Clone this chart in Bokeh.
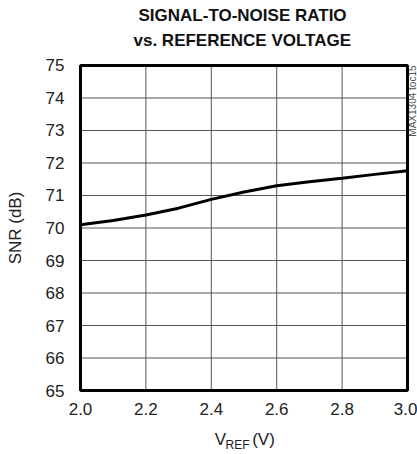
from bokeh.plotting import figure
from bokeh.models import (Range1d, LinearAxis, Title, FixedTicker, NumeralTickFormatter,
                          BoxAnnotation, ColumnDataSource)
from bokeh.core.properties import value
from bokeh.embed import file_html
from bokeh.resources import INLINE
import math

# ---- data ----
vref = [2.0, 2.1, 2.2, 2.3, 2.4, 2.5, 2.6, 2.7, 2.8, 2.9, 3.0]
snr = [70.10, 70.23, 70.40, 70.61, 70.88, 71.11, 71.30, 71.42, 71.53, 71.65, 71.76]

x_ticks = [2.0, 2.2, 2.4, 2.6, 2.8, 3.0]
y_ticks = [65, 66, 67, 68, 69, 70, 71, 72, 73, 74, 75]

title_lines = ["SIGNAL-TO-NOISE RATIO", "vs. REFERENCE VOLTAGE"]
y_label = "SNR (dB)"
x_label_parts = {220: "V", 263: "(V)"}   # main-size parts of the x label
x_label_sub = {237: "REF"}              # subscript part
tag_text = "MAX1304 toc15"

FONT = "Liberation Sans"
TXT = "#222222"

x0, x1 = x_ticks[0], x_ticks[-1]
y0, y1 = y_ticks[0], y_ticks[-1]
# chart box is 327 x 327 px; the plotting area runs a little past it so the heavy
# border is not clipped and the side tag has room beside the box
xpp = (x1 - x0) / 327
ypp = (y1 - y0) / 327

p = figure(width=417, height=454, output_backend="svg", toolbar_location=None,
           x_range=Range1d(x0 - 2 * xpp, x1 + 10 * xpp),
           y_range=Range1d(y0 - 2 * ypp, y1 + 2 * ypp),
           min_border_left=78, min_border_right=0, min_border_top=63, min_border_bottom=60)
p.title = None
p.background_fill_color = "white"
p.border_fill_color = "white"
p.outline_line_color = None
p.xgrid.visible = False
p.ygrid.visible = False

# helper range in canvas pixels, used only to place the x-label pieces
p.extra_x_ranges = {"lab": Range1d(78, 417)}

for ax in (p.xaxis[0], p.yaxis[0]):
    ax.axis_line_color = None
    ax.major_tick_in = 0
    ax.major_tick_out = 0
    ax.minor_tick_line_color = None
    ax.major_label_text_font = FONT
    ax.major_label_text_font_size = "17px"
    ax.major_label_text_color = TXT

p.xaxis[0].ticker = FixedTicker(ticks=x_ticks)
p.xaxis[0].formatter = NumeralTickFormatter(format="0.0")
p.xaxis[0].major_label_standoff = 10

p.yaxis[0].ticker = FixedTicker(ticks=y_ticks)
p.yaxis[0].major_label_standoff = 14
p.yaxis[0].axis_label = y_label
p.yaxis[0].axis_label_text_font = FONT
p.yaxis[0].axis_label_text_font_size = "17px"
p.yaxis[0].axis_label_text_font_style = "normal"
p.yaxis[0].axis_label_text_color = TXT
p.yaxis[0].axis_label_standoff = 18


def label_axis(mapping, size, standoff):
    ax = LinearAxis(x_range_name="lab", ticker=FixedTicker(ticks=list(mapping.keys())),
                    major_label_overrides=dict(mapping))
    ax.axis_line_color = None
    ax.major_tick_line_color = None
    ax.major_tick_in = 0
    ax.major_tick_out = 0
    ax.minor_tick_line_color = None
    ax.major_label_text_font = FONT
    ax.major_label_text_font_size = size
    ax.major_label_text_color = TXT
    ax.major_label_standoff = standoff
    p.add_layout(ax, "below")
    return ax


label_axis(x_label_parts, "17px", 12)
label_axis(x_label_sub, "12px", -14)

# grid lines at the tick values, limited to the chart box
p.segment(x0=x_ticks, y0=[y0] * len(x_ticks), x1=x_ticks, y1=[y1] * len(x_ticks),
          line_color="#555555", line_width=1)
p.segment(x0=[x0] * len(y_ticks), y0=y_ticks, x1=[x1] * len(y_ticks), y1=y_ticks,
          line_color="#555555", line_width=1)

# the curve
src = ColumnDataSource(data=dict(vref=vref, snr=snr))
p.line("vref", "snr", source=src, line_color="black", line_width=3)

# heavy box around the chart
p.add_layout(BoxAnnotation(left=x0, right=x1, bottom=y0, top=y1, fill_color=None,
                           fill_alpha=0, line_color="black", line_alpha=1.0, line_width=3))

# side tag, reading bottom-to-top, just right of the box
p.text(x=[x1], y=[y1], text=[tag_text], angle=math.pi / 2, text_align="right",
       text_baseline="top", x_offset=-1, y_offset=0, text_font=value(FONT),
       text_font_size=value("10px"), text_color="#555555")

# two-line title: first added sits nearest the frame
p.add_layout(Title(text=title_lines[1], align="left", offset=55, text_font=FONT,
                   text_font_style="bold", text_font_size="17px", text_color="#111111",
                   standoff=28), "above")
p.add_layout(Title(text=title_lines[0], align="left", offset=60, text_font=FONT,
                   text_font_style="bold", text_font_size="17px", text_color="#111111",
                   standoff=-20), "above")

open("out.html", "w").write(file_html(p, INLINE))
